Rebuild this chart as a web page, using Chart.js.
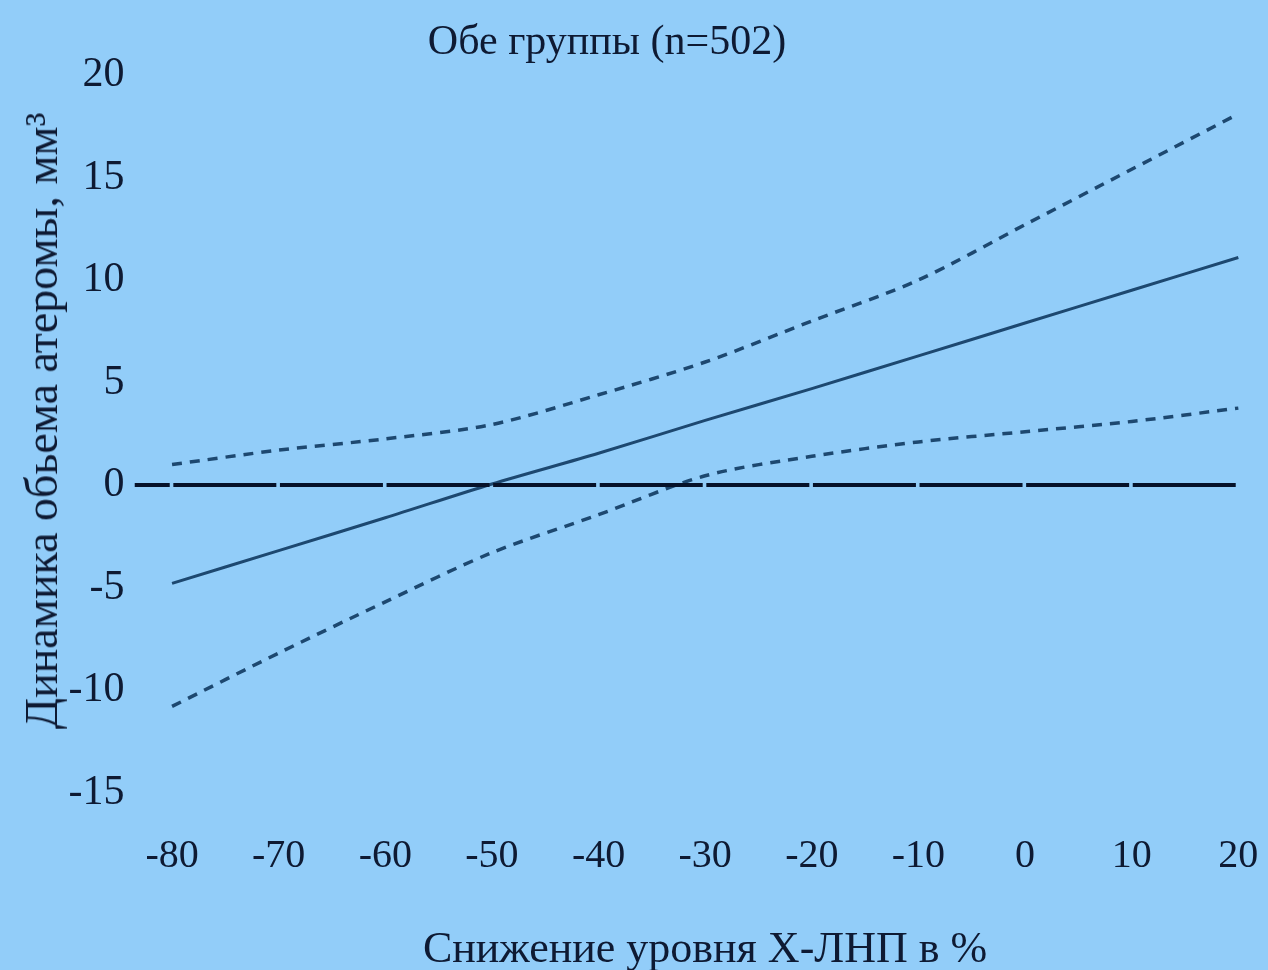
<!DOCTYPE html>
<html>
<head>
<meta charset="utf-8">
<script src="https://cdn.jsdelivr.net/npm/chart.js@4.4.0/dist/chart.umd.min.js"></script>
<style>
  html, body { margin: 0; padding: 0; background: #92cdf9; }
  #wrap { position: relative; width: 1268px; height: 970px; }
  .lbl {
    position: absolute;
    font-family: "Liberation Serif", "DejaVu Serif", serif;
    color: #0e1a33;
    line-height: 1;
    white-space: nowrap;
    transform: translate(-50%, -50%);
  }
  #title { left: 607px; top: 40px; font-size: 42px; }
  #xtitle { left: 705px; top: 948px; font-size: 44px; }
  #ytitle { left: 42px; top: 421px; font-size: 46px; transform: translate(-50%, -50%) rotate(-90deg); }
</style>
</head>
<body>
<div id="wrap">
  <canvas id="chart" width="1268" height="970"></canvas>
  <div class="lbl" id="title">Обе группы (n=502)</div>
  <div class="lbl" id="ytitle">Динамика обьема атеромы, мм³</div>
  <div class="lbl" id="xtitle">Снижение уровня Х-ЛНП в %</div>
</div>
<script>
// values
const xValues = [-80, -70, -60, -50, -40, -30, -20, -10, 0, 10, 20];
const meanLine = [-4.8, -3.2, -1.6, 0.05, 1.55, 3.15, 4.7, 6.3, 7.9, 9.5, 11.1];
const upperCI = [1.0, 1.7, 2.25, 2.95, 4.4, 6.0, 8.0, 10.0, 12.7, 15.4, 18.1];
const lowerCI = [-10.8, -8.2, -5.7, -3.3, -1.45, 0.45, 1.4, 2.1, 2.6, 3.1, 3.75];
const zeroLineX = [-83.5, 20];
const xTicks = [-80, -70, -60, -50, -40, -30, -20, -10, 0, 10, 20];
const yTicks = [-15, -10, -5, 0, 5, 10, 15, 20];

const ink = '#0e1a33';
const curve = '#1d4870';
const serif = '"Liberation Serif", "DejaVu Serif", serif';

const toPoints = (ys) => xValues.map((x, i) => ({ x: x, y: ys[i] }));

const ctx = document.getElementById('chart');
const chart = new Chart(ctx, {
  type: 'line',
  data: {
    datasets: [
      {
        label: 'zero',
        data: zeroLineX.map(x => ({ x: x, y: 0 })),
        borderColor: '#06122a',
        borderWidth: 4,
        borderDash: [103, 3.6],
        borderDashOffset: 68,
        pointRadius: 0
      },
      {
        label: 'upper',
        data: toPoints(upperCI),
        borderColor: curve,
        borderWidth: 3.5,
        borderDash: [10, 8],
        tension: 0.3,
        pointRadius: 0
      },
      {
        label: 'mean',
        data: toPoints(meanLine),
        borderColor: curve,
        borderWidth: 3,
        tension: 0.3,
        pointRadius: 0
      },
      {
        label: 'lower',
        data: toPoints(lowerCI),
        borderColor: curve,
        borderWidth: 3.5,
        borderDash: [10, 8],
        tension: 0.3,
        pointRadius: 0
      }
    ]
  },
  options: {
    responsive: false,
    animation: false,
    layout: { padding: { left: 0, right: 19, top: 75, bottom: 0 } },
    plugins: {
      legend: { display: false },
      tooltip: { enabled: false },
      title: { display: false }
    },
    scales: {
      x: {
        type: 'linear',
        min: -84,
        max: 21,
        grid: { display: false, drawTicks: false },
        border: { display: false },
        afterBuildTicks: (scale) => { scale.ticks = xTicks.map(v => ({ value: v })); },
        afterFit: (scale) => {
          scale.height = 177.5;
          scale.paddingLeft = 0;
          scale.paddingRight = 0;
        },
        ticks: {
          color: ink,
          padding: 39.5,
          maxRotation: 0,
          autoSkip: false,
          font: { family: serif, size: 40, lineHeight: 1.2 }
        }
      },
      y: {
        min: -15,
        max: 20,
        grid: { display: false, drawTicks: false },
        border: { display: false },
        afterBuildTicks: (scale) => { scale.ticks = yTicks.map(v => ({ value: v })); },
        afterFit: (scale) => {
          scale.width = 129.4;
          scale.paddingTop = 0;
          scale.paddingBottom = 0;
        },
        ticks: {
          color: ink,
          padding: 5,
          font: { family: serif, size: 42, lineHeight: 1.2 }
        }
      }
    }
  }
});
</script>
</body>
</html>
